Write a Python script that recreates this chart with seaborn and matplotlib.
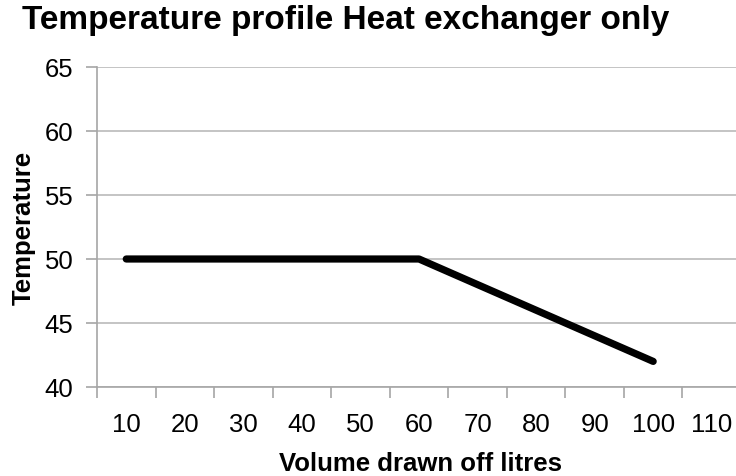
import matplotlib
matplotlib.use("Agg")
import matplotlib.pyplot as plt
import seaborn as sns
import pandas as pd

volume = [10, 20, 30, 40, 50, 60, 70, 80, 90, 100]
temperature = [50, 50, 50, 50, 50, 50, 48, 46, 44, 42]
x_tick_labels = [10, 20, 30, 40, 50, 60, 70, 80, 90, 100, 110]
y_ticks = [40, 45, 50, 55, 60, 65]

sns.set_style("white")
plt.rcParams["font.family"] = ["Liberation Sans", "DejaVu Sans"]
plt.rcParams["text.color"] = "black"
plt.rcParams["axes.labelcolor"] = "black"
plt.rcParams["xtick.labelcolor"] = "black"
plt.rcParams["ytick.labelcolor"] = "black"

df = pd.DataFrame({"volume": volume, "temperature": temperature})

fig = plt.figure(figsize=(7.36, 4.77), dpi=100)
ax = fig.add_axes([97 / 736, 89 / 477, 644 / 736, 320 / 477])

sns.lineplot(data=df, x="volume", y="temperature", ax=ax, color="black",
             linewidth=5.2, solid_capstyle="round", solid_joinstyle="round", zorder=3)

ax.set_xlim(5, 115)
ax.set_ylim(40, 65)

# category boundaries get the tick marks, labels sit in between
ax.set_xticks([v - 5 for v in x_tick_labels] + [115])
ax.set_xticklabels([])
ax.set_xticks(x_tick_labels, minor=True)
ax.set_xticklabels([str(v) for v in x_tick_labels], minor=True)
ax.tick_params(axis="x", which="major", length=8, width=1.2, color="#a6a6a6", direction="out", bottom=True)
ax.tick_params(axis="x", which="minor", length=0, pad=18, labelsize=18.5)

ax.set_yticks(y_ticks)
ax.set_yticklabels([str(v) for v in y_ticks])
ax.tick_params(axis="y", length=8, width=1.2, color="#a6a6a6", direction="out", left=True, pad=9, labelsize=18.5)

ax.yaxis.grid(True, color="#bfbfbf", linewidth=1.3)
ax.xaxis.grid(False)
for side in ["top", "right"]:
    ax.spines[side].set_visible(False)
for side in ["left", "bottom"]:
    ax.spines[side].set_color("#a6a6a6")
    ax.spines[side].set_linewidth(1.2)

ax.set_xlabel("Volume drawn off litres", fontsize=18.5, fontweight="bold", va="center")
ax.set_ylabel("Temperature", fontsize=18.5, fontweight="bold", va="center")
ax.xaxis.set_label_coords((421 - 97) / 644, -(464 - 388) / 320)
ax.yaxis.set_label_coords(-(97 - 24) / 644, (388 - 228) / 320)

fig.text(346 / 736, 1 - 21 / 477, "Temperature profile Heat exchanger only",
         ha="center", va="center", fontsize=24, fontweight="bold")

fig.savefig("out.png", dpi=100)
